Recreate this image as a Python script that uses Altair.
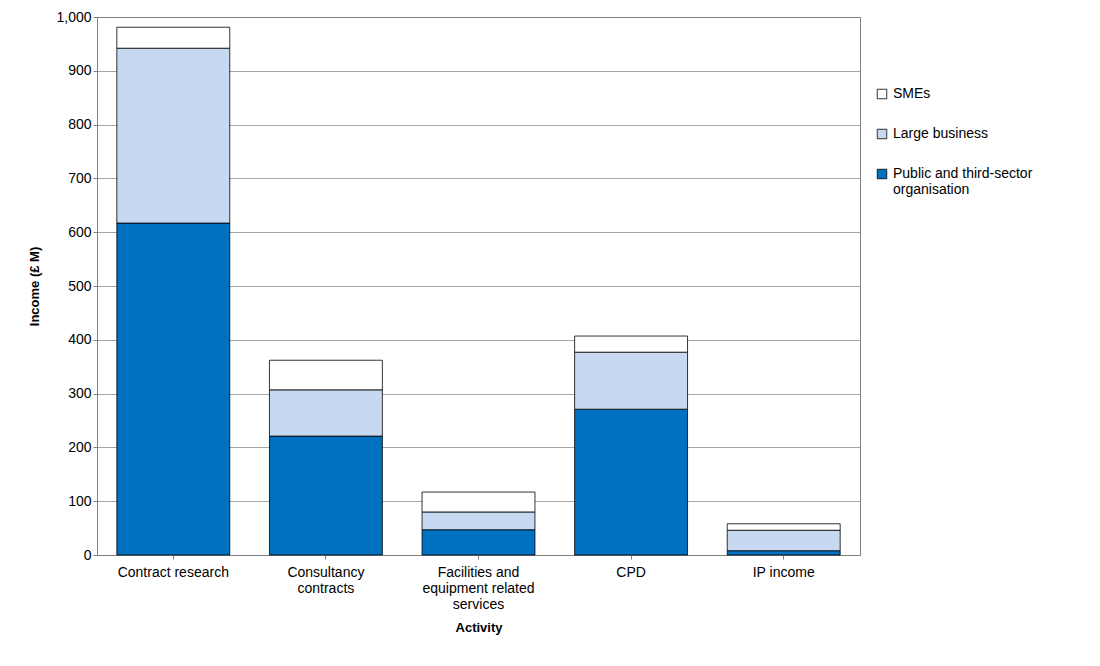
import pandas as pd
import altair as alt

FONT = "Liberation Sans"

activities = ["Contract research", "Consultancy contracts",
              "Facilities and equipment related services", "CPD", "IP income"]
public = [617, 221, 47, 271, 8]
large = [325, 86, 33, 106, 38]
smes = [39, 55, 37, 30, 12]

series = ["Public and third-sector organisation", "Large business", "SMEs"]
colors = ["#0070C0", "#C6D9F1", "#FFFFFF"]

rows = []
for i, a in enumerate(activities):
    for k, (s, vals) in enumerate(zip(series, [public, large, smes])):
        rows.append({"activity": a, "series": s, "value": vals[i], "order": k})
df = pd.DataFrame(rows)

x_labels = (
    "datum.value == 'Consultancy contracts' ? ['Consultancy', 'contracts'] : "
    "datum.value == 'Facilities and equipment related services' ? "
    "['Facilities and', 'equipment related', 'services'] : datum.value"
)
legend_labels = (
    "datum.value == 'Public and third-sector organisation' ? "
    "['Public and third-sector', 'organisation'] : datum.value"
)

chart = (
    alt.Chart(df)
    .mark_bar(stroke="#000000", strokeWidth=0.8)
    .encode(
        x=alt.X("activity:N", sort=activities, title="Activity",
                scale=alt.Scale(paddingInner=0.26, paddingOuter=0.13),
                axis=alt.Axis(labelAngle=0, labelExpr=x_labels, labelPadding=6,
                              titlePadding=10, tickSize=4)),
        y=alt.Y("value:Q", title="Income (£ M)", stack="zero",
                scale=alt.Scale(domain=[0, 1000]),
                axis=alt.Axis(values=list(range(0, 1001, 100)), format=",d",
                              titlePadding=14, tickSize=4)),
        color=alt.Color("series:N",
                        scale=alt.Scale(domain=series[::-1], range=colors[::-1]),
                        legend=alt.Legend(title=None, symbolType="square",
                                          symbolStrokeColor="#000000", symbolStrokeWidth=0.8,
                                          symbolSize=90, labelExpr=legend_labels,
                                          rowPadding=26, labelFontSize=14,
                                          orient="none", legendX=778, legendY=70,
                                          padding=0)),
        order=alt.Order("order:Q", sort="ascending"),
    )
    .properties(width=763, height=538,
                padding={"left": 20, "top": 2, "right": 5, "bottom": 5})
    .configure_view(stroke="#808080", strokeWidth=1)
    .configure_axis(grid=True, gridColor="#808080", gridWidth=0.7,
                    domainColor="#808080", tickColor="#808080",
                    labelFont=FONT, titleFont=FONT, labelFontSize=14,
                    titleFontSize=13, labelColor="#000000", titleColor="#000000")
    .configure_axisX(grid=False)
    .configure_legend(labelFont=FONT, labelColor="#000000")
)

chart.save("out.html", embed_options={"renderer": "svg", "actions": False})
